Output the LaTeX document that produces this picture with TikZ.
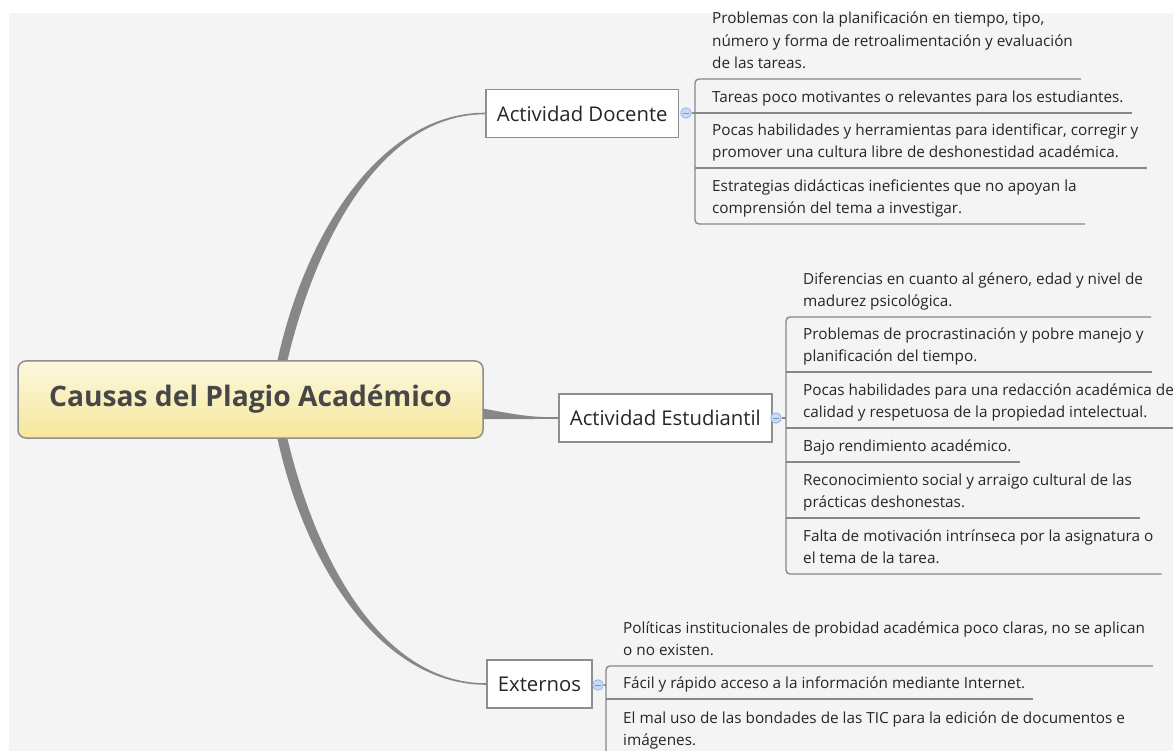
\documentclass[tikz,border=0pt]{standalone}
\usepackage{fontspec}
\setmainfont{Open Sans}
\usetikzlibrary{calc}
\definecolor{panel}{HTML}{F4F4F4}
\definecolor{linegray}{HTML}{878787}
\definecolor{boxgray}{HTML}{8E8E8E}
\definecolor{txt}{HTML}{262626}
\definecolor{roottop}{HTML}{FCF8E0}
\definecolor{rootbot}{HTML}{F6E79A}
\definecolor{colfill}{HTML}{C9DAF6}
\definecolor{coldraw}{HTML}{9DB8E8}
\begin{document}
\begin{tikzpicture}[x=1pt,y=-1pt,
	rootbox/.style={draw=boxgray,line width=1.5pt,rounded corners=8pt,top color=roottop,bottom color=rootbot,minimum width=465pt,minimum height=77pt,font=\fontsize{28.2}{32}\selectfont\bfseries,text=black!72},
	mainbox/.style={draw=boxgray,line width=1.8pt,fill=white,anchor=west,minimum height=48pt,inner xsep=11pt,font=\fontsize{20.3}{24}\selectfont,text=txt},
	collapse/.style={circle,draw=coldraw,fill=colfill,line width=0.9pt,minimum size=10.5pt,inner sep=0pt,path picture={\draw[coldraw!80!black,line width=0.8pt] ([xshift=-2.6pt]path picture bounding box.center)--([xshift=2.6pt]path picture bounding box.center);}},
	subitem/.style={anchor=south west,align=left,inner xsep=8pt,inner ysep=3.3pt,font=\fontsize{15.3}{22.5}\selectfont,text=txt},
	underline/.style={draw=linegray,line width=1.4pt},
	branch/.style={fill=linegray}]
	\useasboundingbox (0,0) rectangle (1173,751);
	\fill[white] (0,0) rectangle (1173,751);
	\fill[panel] (9,13) rectangle (1173,751);
	
	\node[rootbox] (root) at (250.5,399.5) {Causas del Plagio Académico};
	\node[mainbox] (doc) at (485,113.5) {Actividad Docente};
	\node[mainbox] (est) at (558,418) {Actividad Estudiantil};
	\node[mainbox] (ext) at (486,684) {Externos};
	
	\fill[branch] ($(root.north)+(27,0)$) .. controls (307,226) and (385,112.7) .. ($(doc.west)+(0,-0.8)$) -- ($(doc.west)+(0,0.8)$) .. controls (385,114.3) and (318,232) .. ($(root.north)+(37,0)$) -- cycle;
	\fill[branch] ($(root.south)+(27,0)$) .. controls (307,573) and (385,684.8) .. ($(ext.west)+(0,0.8)$) -- ($(ext.west)+(0,-0.8)$) .. controls (385,683.2) and (318,567) .. ($(root.south)+(37,0)$) -- cycle;
	\fill[branch] ($(root.east)+(-1,9)$) .. controls (507,413) and (527,417) .. (548,417.1) -- ($(est.west)+(0,-0.9)$) -- ($(est.west)+(0,0.9)$) -- (548,418.9) .. controls (525,419) and (505,419.5) .. ($(root.east)+(-1,19.5)$) -- cycle;
	
	\node[collapse] (dcol) at (686,113) {};
	\node[collapse] (ecol) at (776,418) {};
	\node[collapse] (xcol) at (598,685) {};
	
	\node[subitem] (d1) at (704,79) {Problemas con la planificación en tiempo, tipo,\\número y forma de retroalimentación y evaluación\\de las tareas.\strut};
	\node[subitem] (d2) at (704,113) {Tareas poco motivantes o relevantes para los estudiantes.\strut};
	\node[subitem] (d3) at (704,168) {Pocas habilidades y herramientas para identificar, corregir y\\promover una cultura libre de deshonestidad académica.\strut};
	\node[subitem] (d4) at (704,224) {Estrategias didácticas ineficientes que no apoyan la\\comprensión del tema a investigar.\strut};
	
	\node[subitem] (e1) at (795,317) {Diferencias en cuanto al género, edad y nivel de\\madurez psicológica.\strut};
	\node[subitem] (e2) at (795,372) {Problemas de procrastinación y pobre manejo y\\planificación del tiempo.\strut};
	\node[subitem] (e3) at (795,428) {Pocas habilidades para una redacción académica de\\calidad y respetuosa de la propiedad intelectual.\strut};
	\node[subitem] (e4) at (795,462) {Bajo rendimiento académico.\strut};
	\node[subitem] (e5) at (795,518) {Reconocimiento social y arraigo cultural de las\\prácticas deshonestas.\strut};
	\node[subitem] (e6) at (795,574) {Falta de motivación intrínseca por la asignatura o\\el tema de la tarea.\strut};
	
	\node[subitem] (x1) at (615,666) {Políticas institucionales de probidad académica poco claras, no se aplican\\o no existen.\strut};
	\node[subitem] (x2) at (615,699) {Fácil y rápido acceso a la información mediante Internet.\strut};
	\node[subitem] (x3) at (615,756) {El mal uso de las bondades de las TIC para la edición de documentos e\\imágenes.\strut};
	
	\draw[underline,rounded corners=4pt] (d1.south east) -- ($(d1.south west)+(-9,0)$) -- ($(d4.south west)+(-9,0)$) -- (d4.south east);
	\foreach \n in {d2,d3}
	\draw[underline] ($(\n.south west)+(-9,0)$) -- (\n.south east);
	\draw[underline] (dcol.east) -- ($(dcol.east -| d1.south west)+(-9,0)$);
	
	\draw[underline,rounded corners=4pt] (e1.south east) -- ($(e1.south west)+(-9,0)$) -- ($(e6.south west)+(-9,0)$) -- (e6.south east);
	\foreach \n in {e2,e3,e4,e5}
	\draw[underline] ($(\n.south west)+(-9,0)$) -- (\n.south east);
	\draw[underline] (ecol.east) -- ($(ecol.east -| e1.south west)+(-9,0)$);
	
	\draw[underline,rounded corners=4pt] (x1.south east) -- ($(x1.south west)+(-9,0)$) -- ($(x3.south west)+(-9,0)$) -- (x3.south east);
	\draw[underline] ($(x2.south west)+(-9,0)$) -- (x2.south east);
	\draw[underline] (xcol.east) -- ($(xcol.east -| x1.south west)+(-9,0)$);
\end{tikzpicture}
\end{document}
